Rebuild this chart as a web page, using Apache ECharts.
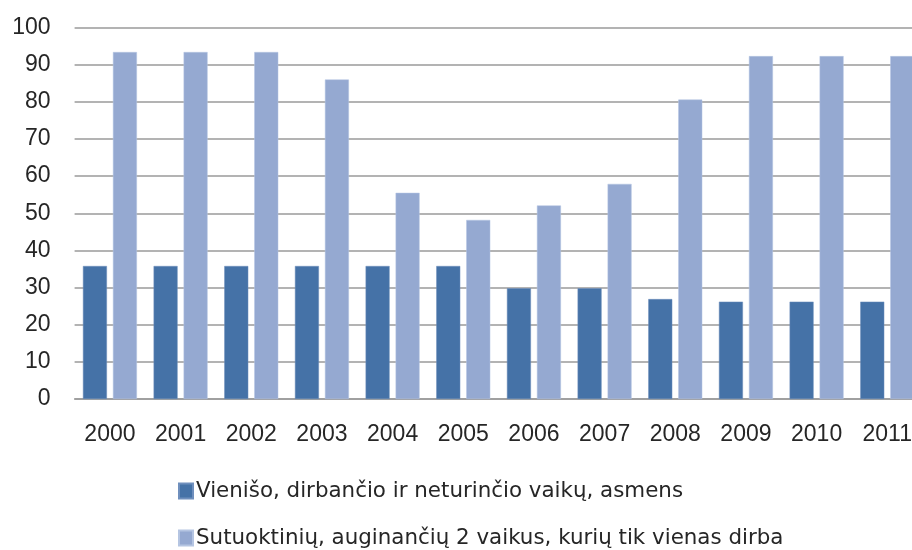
<!DOCTYPE html>
<html>
<head>
<meta charset="utf-8">
<script src="https://cdn.jsdelivr.net/npm/echarts@6/dist/echarts.min.js"></script>
<style>
  html, body { margin: 0; padding: 0; background: #fff; overflow: hidden; }
  /* the original picture cuts the plot off at the right edge */
  #chart { width: 940px; height: 550px; }
</style>
</head>
<body>
<div id="chart"></div>
<script>
// metai
const years = ['2000', '2001', '2002', '2003', '2004', '2005', '2006', '2007', '2008', '2009', '2010', '2011'];
// vieniso asmens
const singleValues = [35.8, 35.8, 35.8, 35.8, 35.8, 35.8, 29.8, 29.8, 26.9, 26.2, 26.2, 26.2];
// sutuoktiniu su 2 vaikais
const coupleValues = [93.4, 93.4, 93.4, 86.0, 55.5, 48.2, 52.1, 57.9, 80.6, 92.3, 92.3, 92.3];
const seriesNames = [
  'Vienišo, dirbančio ir neturinčio vaikų, asmens',
  'Sutuoktinių, auginančių 2 vaikus, kurių tik vienas dirba'
];
const yTicks = { min: 0, max: 100, interval: 10 };

const myChart = echarts.init(document.getElementById('chart'));
const fontFamily = 'Liberation Sans';

// viena legenda vienai eilutei
const legendRow = (name, top) => ({
  orient: 'horizontal',
  left: 173,
  top: top,
  itemWidth: 14,
  itemHeight: 15,
  icon: 'rect',
  textStyle: { fontSize: 21.4, color: '#262626', fontFamily: 'DejaVu Sans', padding: [0, 0, 0, -2] },
  data: [name]
});

const option = {
  animation: false,
  textStyle: { fontFamily: fontFamily },
  grid: {
    left: 74.6,
    top: 27.5,
    width: 848,
    height: 371.5
  },
  legend: [
    legendRow(seriesNames[0], 475.5),
    legendRow(seriesNames[1], 522.5)
  ],
  xAxis: {
    type: 'category',
    data: years,
    axisLine: { show: true, lineStyle: { color: '#9a9a9a', width: 1.5 } },
    axisTick: { show: false },
    axisLabel: { fontSize: 23, color: '#262626', margin: 24, fontFamily: fontFamily }
  },
  yAxis: {
    type: 'value',
    min: yTicks.min,
    max: yTicks.max,
    interval: yTicks.interval,
    axisLine: { show: false },
    axisTick: { show: false },
    splitLine: { show: true, lineStyle: { color: '#9a9a9a', width: 1.5 } },
    axisLabel: { fontSize: 23, color: '#262626', margin: 24, fontFamily: fontFamily }
  },
  series: [
    {
      type: 'bar',
      name: seriesNames[0],
      data: singleValues,
      barWidth: 24,
      barGap: '25%',
      itemStyle: { color: '#4572a7', borderColor: '#6f8fbd', borderWidth: 0.5 }
    },
    {
      type: 'bar',
      name: seriesNames[1],
      data: coupleValues,
      barWidth: 24,
      barGap: '25%',
      itemStyle: { color: '#95a9d1', borderColor: '#b5c5e2', borderWidth: 0.5 }
    }
  ]
};
option && myChart.setOption(option);
</script>
</body>
</html>
